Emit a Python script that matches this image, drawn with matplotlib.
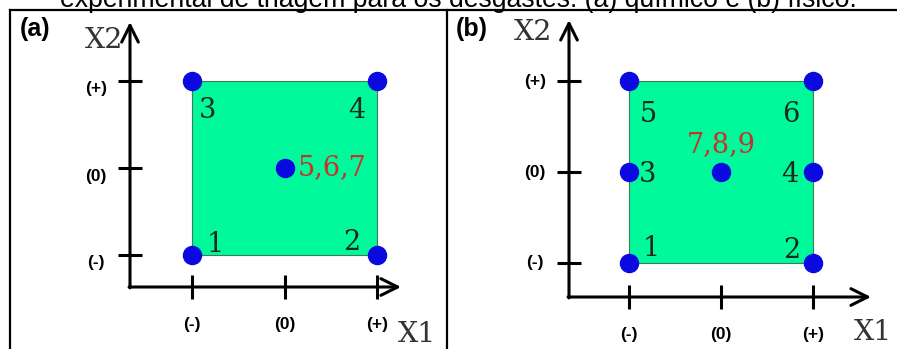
import matplotlib
matplotlib.use("Agg")
import matplotlib.pyplot as plt
from matplotlib.patches import Rectangle

# ---------------- data ----------------
levels = [-1, 0, 1]
level_labels = ['(-)', '(0)', '(+)']

a_x1 = [-1, 1, -1, 1, 0]
a_x2 = [-1, -1, 1, 1, 0]
a_runs = ['1', '2', '3', '4', '5,6,7']

b_x1 = [-1, 1, -1, 1, -1, 1, 0]
b_x2 = [-1, -1, 0, 0, 1, 1, 0]
b_runs = ['1', '2', '3', '4', '5', '6', '7,8,9']

caption = "experimental de triagem para os desgastes: (a) químico e (b) físico."

# ---------------- layout ----------------
W, H = 897, 349
fig = plt.figure(figsize=(W / 100, H / 100), dpi=100)

GREEN = '#00f99b'
BLUE = '#0a0ae0'
RED = '#c8302c'
NUMC = '#1c2a1c'
AXC = '#333333'


def make_panel(box, xaxis_py, yaxis_px, xtip, ytip, x1, x2, runs, run_offsets,
               run_colors, ytick_dy):
    l, r, t, b = box
    ax = fig.add_axes([l / W, 1 - b / H, (r - l) / W, (b - t) / H])
    ax.set_xlim(-1, 1)
    ax.set_ylim(-1, 1)
    ax.axis('off')

    def X(px):
        return -1 + 2 * (px - l) / (r - l)

    def Y(py):
        return 1 - 2 * (py - t) / (b - t)

    ax.add_patch(Rectangle((min(levels), min(levels)), max(levels) - min(levels),
                           max(levels) - min(levels), facecolor=GREEN,
                           edgecolor='#3f7a5a', lw=0.8, zorder=1, clip_on=False))
    # axes with arrows
    ax0x, ax0y = X(yaxis_px), Y(xaxis_py)
    arrow = dict(arrowstyle='->,head_length=0.6,head_width=0.3', lw=2.2,
                 color='black', shrinkA=0, shrinkB=0, mutation_scale=20)
    ax.annotate('', xy=(X(xtip), ax0y), xytext=(ax0x - 0.01, ax0y),
                arrowprops=arrow, annotation_clip=False)
    ax.annotate('', xy=(ax0x, Y(ytip)), xytext=(ax0x, ax0y - 0.01),
                arrowprops=arrow, annotation_clip=False)
    # ticks
    ax.plot(levels, [ax0y] * 3, ls='none', marker='|', ms=17, mew=2.2,
            color='black', clip_on=False, zorder=3)
    ax.plot([ax0x] * 3, levels, ls='none', marker='_', ms=17, mew=2.2,
            color='black', clip_on=False, zorder=3)
    for lv, lab in zip(levels, level_labels):
        ax.annotate(lab, xy=(lv, ax0y), xytext=(0, -38), textcoords='offset pixels',
                    ha='center', va='center', fontsize=12.5, fontweight='bold',
                    family='Liberation Sans', annotation_clip=False)
        ax.annotate(lab, xy=(ax0x, lv), xytext=(-34, ytick_dy),
                    textcoords='offset pixels', ha='center', va='center',
                    fontsize=12.5, fontweight='bold', family='Liberation Sans',
                    annotation_clip=False)
    # design points
    ax.plot(x1, x2, ls='none', marker='o', ms=13, color=BLUE, mec=BLUE,
            clip_on=False, zorder=4)
    for xx, yy, lab, off, c in zip(x1, x2, runs, run_offsets, run_colors):
        ax.annotate(lab, xy=(xx, yy), xytext=off, textcoords='offset pixels',
                    ha='center', va='center_baseline', fontsize=19.5,
                    family='DejaVu Serif', color=c, annotation_clip=False, zorder=5)
    return ax


make_panel((192, 377, 81, 255), 287, 130, 401, 22, a_x1, a_x2, a_runs,
           [(23, 14), (-25, 15), (16, -27), (-20, -27), (48, 3)],
           [NUMC] * 4 + [RED], -8)
make_panel((629, 813, 81, 263), 297, 569, 871, 20, b_x1, b_x2, b_runs,
           [(22, 17), (-21, 16), (19, 1), (-23, 1), (19, -30), (-22, -30), (0, 30)],
           [NUMC] * 6 + [RED], 0)

# ---------------- overlay: frame, captions, axis names ----------------
ov = fig.add_axes([0, 0, 1, 1], zorder=10)
ov.set_xlim(0, W)
ov.set_ylim(H, 0)
ov.axis('off')
ov.patch.set_alpha(0)

ov.plot([10, 897], [9.5, 9.5], color='black', lw=1.6, clip_on=False)
ov.plot([10, 10], [9.5, H + 2], color='black', lw=1.6)
ov.plot([447, 447], [9.5, H + 2], color='black', lw=1.6)

ov.text(60, 7, caption, ha='left', va='baseline', fontsize=19.2,
        family='Liberation Sans', color='black')

for txt, x, y in [('(a)', 35, 29), ('(b)', 472, 29)]:
    ov.text(x, y, txt, ha='center', va='center', fontsize=18, fontweight='bold',
            family='Liberation Sans')
for txt, x, y in [('X2', 104, 37), ('X1', 417, 332), ('X2', 533, 30), ('X1', 873, 330)]:
    ov.text(x, y, txt, ha='center', va='center_baseline', fontsize=20.5,
            family='DejaVu Serif', color=AXC)

fig.savefig('out.png', dpi=100)
